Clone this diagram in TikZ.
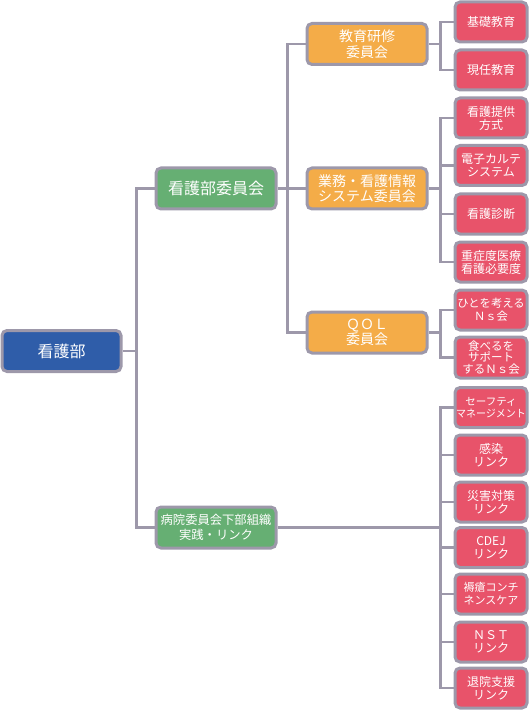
\documentclass[tikz,border=0pt]{standalone}
\usepackage{fontspec}
\setmainfont{Noto Sans CJK JP}
\definecolor{cblue}{HTML}{2F5DA9}
\definecolor{cgreen}{HTML}{66AF73}
\definecolor{corange}{HTML}{F4AC48}
\definecolor{cred}{HTML}{E8536A}
\definecolor{cline}{HTML}{9D98AA}
\tikzset{
  box/.style={draw=cline, line width=3pt, rounded corners=5pt, text=white, align=center, inner sep=0pt},
  rootbox/.style={box, fill=cblue, minimum width=119pt, minimum height=41pt, font=\fontsize{16}{17}\selectfont},
  gbox/.style={box, fill=cgreen, minimum width=120pt, minimum height=41pt},
  obox/.style={box, fill=corange, minimum width=120pt, minimum height=41pt, font=\fontsize{14}{15.5}\selectfont},
  leaf/.style={box, fill=cred, minimum width=72pt, minimum height=40pt, font=\fontsize{12}{13}\selectfont},
  conn/.style={draw=cline, line width=2.5pt}
}
\begin{document}
\begin{tikzpicture}[x=1pt,y=-1pt]
\useasboundingbox (0,0) rectangle (529,711);
% root
\node[rootbox] (root) at (61.5,351) {看護部};
% level 1
\node[gbox, font=\fontsize{16}{17}\selectfont] (kango) at (216,188.5) {看護部委員会};
\node[gbox, font=\fontsize{12.3}{14.5}\selectfont] (byoin) at (216,527.5) {病院委員会下部組織\\実践・リンク};
% level 2
\node[obox] (kyoiku) at (367,44) {教育研修\\委員会};
\node[obox] (gyomu) at (367,188.5) {業務・看護情報\\システム委員会};
\node[obox] (qol) at (367,332.5) {ＱＯＬ\\委員会};
% leaves
\node[leaf] (l1) at (491,22) {基礎教育};
\node[leaf] (l2) at (491,70) {現任教育};
\node[leaf] (l3) at (491,118) {看護提供\\方式};
\node[leaf] (l4) at (491,165.5) {電子カルテ\\システム};
\node[leaf] (l5) at (491,214) {看護診断};
\node[leaf] (l6) at (491,262) {重症度医療\\看護必要度};
\node[leaf, font=\fontsize{11.3}{13}\selectfont] (l7) at (491,310) {ひとを考える\\Ｎｓ会};
\node[leaf, minimum height=41pt, font=\fontsize{11.5}{11.8}\selectfont] (l8) at (491,357.5) {食べるを\\サポート\\するＮｓ会};
\node[leaf, font=\fontsize{10.5}{12.5}\selectfont] (l9) at (491,407.5) {セーフティ\\\scalebox{0.95}[1]{マネージメント}};
\node[leaf] (l10) at (491,455) {感染\\リンク};
\node[leaf] (l11) at (491,502) {災害対策\\リンク};
\node[leaf] (l12) at (491,547.5) {CDEJ\\リンク};
\node[leaf, font=\fontsize{11}{13}\selectfont] (l13) at (491,594) {褥瘡コンチ\\ネンスケア};
\node[leaf] (l14) at (491,642) {ＮＳＴ\\リンク};
\node[leaf] (l15) at (491,688) {退院支援\\リンク};
% connectors
\draw[conn] (kango.west) -- ++(-18,0) |- (root.east);
\draw[conn] (byoin.west) -- ++(-18,0) |- (root.east);
\draw[conn] (kyoiku.west) -- ++(-18,0) |- (kango.east);
\draw[conn] (gyomu.west) -- (kango.east);
\draw[conn] (qol.west) -- ++(-18,0) |- (kango.east);
\foreach \c in {l1,l2} \draw[conn] (\c.west) -- ++(-13,0) |- (kyoiku.east);
\foreach \c in {l3,l4,l5,l6} \draw[conn] (\c.west) -- ++(-13,0) |- (gyomu.east);
\foreach \c in {l7,l8} \draw[conn] (\c.west) -- ++(-13,0) |- (qol.east);
\foreach \c in {l9,l10,l11,l12,l13,l14,l15} \draw[conn] (\c.west) -- ++(-13,0) |- (byoin.east);
\end{tikzpicture}
\end{document}
